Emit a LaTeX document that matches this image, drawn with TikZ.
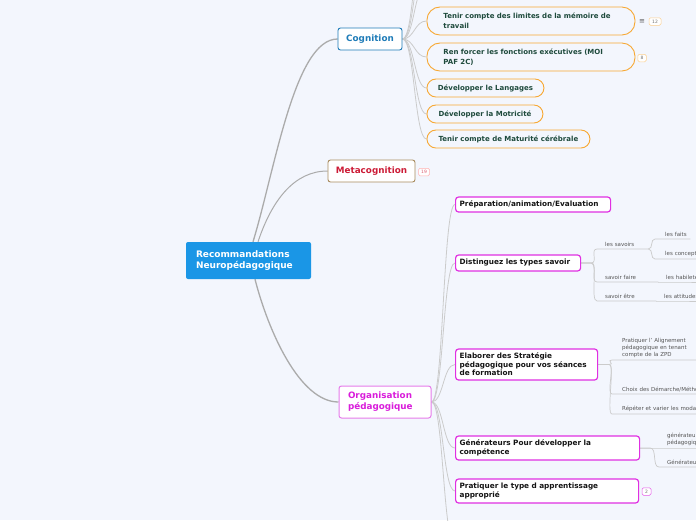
\documentclass[tikz,border=0pt]{standalone}
\usepackage{fontspec}
\setmainfont{DejaVu Sans}
\usetikzlibrary{calc}
\pgfdeclarelayer{edges}
\pgfsetlayers{edges,main}
\definecolor{bg}{HTML}{F3F6FD}
\definecolor{mainblue}{HTML}{1A96E6}
\definecolor{cogblue}{HTML}{1F7CB8}
\definecolor{metabrown}{HTML}{A88B5E}
\definecolor{metared}{HTML}{CC1B36}
\definecolor{orgborder}{HTML}{E67BEA}
\definecolor{orgtext}{HTML}{D91CDB}
\definecolor{magborder}{HTML}{E030E2}
\definecolor{cogorange}{HTML}{F7A833}
\definecolor{cogtext}{HTML}{1E4A3C}
\definecolor{linegrey}{HTML}{ABABAB}
\definecolor{thingrey}{HTML}{CBCBCB}
\definecolor{leaftext}{HTML}{555555}
\tikzset{
  br/.style={to path={.. controls ($(\tikztostart)+(#1,0)$) and ($(\tikztotarget)+(-#1,0)$) .. (\tikztotarget)}},
  br/.default=12,
  mainline/.style={draw=linegrey, line width=1.3pt},
  subline/.style={draw=thingrey, line width=0.8pt},
  leafline/.style={draw=thingrey, line width=0.7pt},
  branchbox/.style={fill=white, rounded corners=2.5pt, line width=0.9pt, minimum height=22pt, inner sep=0pt, font=\fontsize{8.8}{11}\selectfont\bfseries},
  cogchild/.style={draw=cogorange, fill=bg, line width=0.9pt, rounded corners=#1, anchor=west, align=left, inner sep=0pt, font=\fontsize{7}{10}\selectfont\bfseries, text=cogtext},
  orgchild/.style={draw=magborder, fill=white, line width=1.2pt, rounded corners=3pt, anchor=west, align=left, inner xsep=4pt, inner ysep=1pt, font=\fontsize{7.3}{8.5}\selectfont\bfseries, text=black!92},
  leaf/.style={anchor=south west, inner xsep=0pt, inner ysep=2.2pt, align=left, font=\fontsize{5.5}{7}\selectfont, text=leaftext},
  badge/.style={draw=#1, fill=white, rounded corners=1.5pt, line width=0.5pt, inner sep=0.5pt, minimum height=7.5pt, font=\fontsize{4.5}{5}\selectfont, text=black!55}
}
\begin{document}
\begin{tikzpicture}[x=1pt, y=-1pt]
\useasboundingbox (0,0) rectangle (696,520);
\begin{pgfonlayer}{edges}
\fill[bg] (0,0) rectangle (696,520);
\end{pgfonlayer}

% central node
\node[fill=mainblue, rounded corners=2pt, text=white, align=left, text width=105pt, inner xsep=10pt, inner ysep=0pt, minimum height=37pt, font=\fontsize{9}{11}\selectfont\bfseries] (main) at (248.5,260.5) {Recommandations\\Neuropédagogique};

% main branches
\node[branchbox, draw=cogblue, text=cogblue, minimum width=64pt] (cog) at (370,39) {Cognition};
\node[branchbox, draw=metabrown, text=metared, minimum width=87pt] (meta) at (371.5,171) {Metacognition};
\node[branchbox, draw=orgborder, line width=1pt, text=orgtext, align=left, text width=74pt, inner xsep=9pt, minimum height=32pt] (org) at (385,402) {Organisation\\pédagogique};

% badges
\node[badge=red!30, text=metared!70, minimum width=11pt] (b19) at (424,172) {19};
\node[text=black!65, inner sep=0pt, font=\fontsize{7}{8}\selectfont] (eq) at (642,21.5) {≡};
\node[badge=cogorange!55, minimum width=12pt] (b12) at (655,21.5) {12};
\node[badge=cogorange!55, minimum width=8.5pt] (b8) at (642,58) {8};
\node[badge=magborder!80, minimum width=9pt] (b2) at (646.5,491.5) {2};

% Cognition children
\coordinate (up1) at (426,-14);
\coordinate (up2) at (426,-42);
\coordinate (up3) at (426,-72);
\node[cogchild=13pt, text width=175pt, inner xsep=16.5pt, minimum height=28pt] (c1) at (426.5,21) {Tenir compte des limites de la mémoire de\\travail};
\node[cogchild=13pt, text width=175pt, inner xsep=16.5pt, minimum height=28pt] (c2) at (426.5,57) {Ren forcer les fonctions exécutives (MOI\\PAF 2C)};
\node[cogchild=9pt, minimum width=117pt, minimum height=18pt] (c3) at (426.5,88) {Développer le Langages};
\node[cogchild=9pt, minimum width=116pt, minimum height=18pt] (c4) at (426.5,114) {Développer la Motricité};
\node[cogchild=9pt, minimum width=163pt, minimum height=18pt] (c5) at (426.5,139) {Tenir compte de Maturité cérébrale};

% Organisation children
\coordinate (down1) at (455,545);
\node[orgchild, text width=147pt, minimum height=15pt] (prep) at (455,204.5) {Préparation/animation/Evaluation};
\node[orgchild, text width=117pt, minimum height=16pt] (dist) at (455,263) {Distinguez les types savoir};
\node[orgchild, text width=134pt, minimum height=31pt] (elab) at (455,364.5) {Elaborer des Stratégie\\pédagogique pour vos séances\\de formation};
\node[orgchild, text width=176pt, minimum height=24pt] (gen) at (455,448) {Générateurs Pour développer la\\compétence};
\node[orgchild, text width=175pt, minimum height=24pt] (prat) at (455,491) {Pratiquer le type d apprentissage\\approprié};

% leaves
\node[leaf, text width=43pt] (sav) at (605,249) {les savoirs};
\node[leaf, text width=25pt] (faits) at (665,239) {les faits};
\node[leaf, text width=60pt] (conc) at (665,259) {les concepts};
\node[leaf, text width=53pt] (sf) at (605,282) {savoir faire};
\node[leaf, text width=60pt] (hab) at (666,282) {les habiletés};
\node[leaf, text width=51pt] (se) at (605,301) {savoir être};
\node[leaf, text width=60pt] (att) at (664,301) {les attitudes};
\node[leaf, text width=85pt] (al) at (622,360) {Pratiquer l' Alignement\\pédagogique en tenant\\compte de la ZPD};
\node[leaf, text width=95pt] (ch) at (622,394) {Choix des Démarche/Méthodes};
\node[leaf, text width=95pt] (re) at (622,414) {Répéter et varier les modalités};
\node[leaf, text width=60pt] (gp) at (667,448) {générateurs\\pédagogiques};
\node[leaf, text width=60pt] (g2) at (667,467) {Générateurs};

\begin{pgfonlayer}{edges}
\draw[mainline] ([xshift=4.5pt]main.north) .. controls +(22,-72) and +(-43,0) .. (cog.west);
\draw[mainline, line width=1pt] ([xshift=9.5pt]main.north) .. controls +(14,-42) and +(-33,0) .. (meta.west);
\draw[mainline] ([xshift=6.5pt]main.south) .. controls +(13,51) and +(-39,0) .. (org.west);

\draw[subline] (cog.east) to[br=12] (up1);
\draw[subline] (cog.east) to[br=12] (up2);
\draw[subline] (cog.east) to[br=12] (up3);
\draw[subline] (cog.east) to[br=12] (c1.west);
\draw[subline] (cog.east) to[br=12] (c2.west);
\draw[subline] (cog.east) to[br=12] (c3.west);
\draw[subline] (cog.east) to[br=12] (c4.west);
\draw[subline] (cog.east) to[br=12] (c5.west);

\draw[subline] (org.east) to[br=12] (prep.west);
\draw[subline] (org.east) to[br=12] (dist.west);
\draw[subline] (org.east) to[br=12] (elab.west);
\draw[subline] (org.east) to[br=12] (gen.west);
\draw[subline] (org.east) to[br=12] (prat.west);
\draw[subline] (org.east) to[br=12] (down1);

\draw[leafline] (dist.east) -- ++(10,0) to[br=7] ([xshift=-8pt]sav.south west) -- (sav.south east);
\draw[leafline] (dist.east) -- ++(10,0) to[br=7] ([xshift=-8pt]sf.south west) -- (sf.south east);
\draw[leafline] (dist.east) -- ++(10,0) to[br=7] ([xshift=-8pt]se.south west) -- (se.south east);
\draw[leafline] (sav.south east) to[br=5] ([xshift=-10pt]faits.south west) -- (faits.south east);
\draw[leafline] (sav.south east) to[br=5] ([xshift=-10pt]conc.south west) -- (conc.south east);
\draw[leafline] (sf.south east) -- ([xshift=-8pt]hab.south west) -- (hab.south east);
\draw[leafline] (se.south east) -- ([xshift=-8pt]att.south west) -- (att.south east);

\draw[leafline] (elab.east) -- ++(11,0) to[br=6] ([xshift=-10pt]al.south west) -- (al.south east);
\draw[leafline] (elab.east) -- ++(11,0) to[br=6] ([xshift=-10pt]ch.south west) -- (ch.south east);
\draw[leafline] (elab.east) -- ++(11,0) to[br=6] ([xshift=-10pt]re.south west) -- (re.south east);

\draw[leafline] (gen.east) -- (gp.south west) -- (gp.south east);
\draw[leafline] (gen.east) -- ++(10,0) to[br=7] ([xshift=-8pt]g2.south west) -- (g2.south east);
\end{pgfonlayer}
\end{tikzpicture}
\end{document}
